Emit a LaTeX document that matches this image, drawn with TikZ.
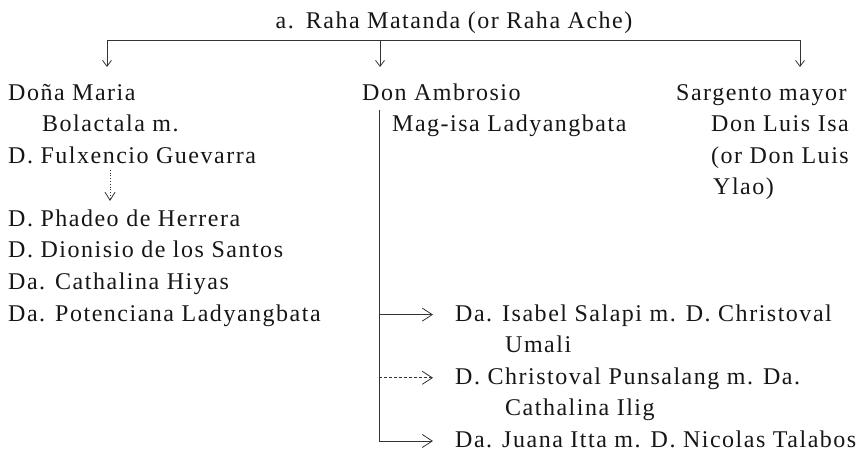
\documentclass[tikz,border=0pt]{standalone}
\usepackage{fontspec}
\setmainfont{Liberation Serif}[LetterSpace=6.3]
\usetikzlibrary{
    positioning,
    arrows.meta
}
\definecolor{Ink}{HTML}{161616}
\definecolor{Stroke}{HTML}{333333}

\begin{document}
\begin{tikzpicture}[
                x=1pt, y=1pt,
                every node/.style={align=left, text=Ink, inner sep=0pt},
                row/.style={
                    anchor=north west,
                    text height=25pt,
                    text depth=6.2pt,
                    font=\fontsize{24pt}{31.2pt}\selectfont
                },
                link/.style={draw=Stroke, line width=0.8pt},
                drop/.style={link, -{Straight Barb[length=6pt,width=9pt]}},
                branch/.style={link, -{Straight Barb[length=10pt,width=13pt]}},
                dotlink/.style={link, dotted, -{Straight Barb[length=8pt,width=10pt]}}
            ]

                \useasboundingbox (0,0) rectangle (866,-454);

                % title
                \node[row, anchor=north] (raha) at (454,-3)
                    {a.\enspace Raha Matanda (or Raha Ache)};

                \coordinate (barra) at (454,-40);
                \coordinate (esq) at (107,-67);
                \coordinate (meio) at (380,-67);
                \coordinate (dir) at (800,-67);

                % left column
                \node[row] (dona) at (8,-75) {Doña Maria};
                \node[row, below right=0pt and 34pt of dona.south west]
                    (bolactala) {Bolactala m.};
                \node[row, below right=0pt and -34pt of bolactala.south west]
                    (fulxencio) {D. Fulxencio Guevarra};
                \node[row, below right=31.2pt and 0pt of fulxencio.south west]
                    (phadeo) {D. Phadeo de Herrera};
                \node[row, below right=0pt and 0pt of phadeo.south west]
                    (dionisio) {D. Dionisio de los Santos};
                \node[row, below right=0pt and 0pt of dionisio.south west]
                    (cathalina) {Da. Cathalina Hiyas};
                \node[row, below right=0pt and 0pt of cathalina.south west]
                    (potenciana) {Da. Potenciana Ladyangbata};

                % middle column
                \node[row] (ambrosio) at (362,-75) {Don Ambrosio};
                \node[row, below right=0pt and 30pt of ambrosio.south west]
                    (magisa) {Mag-isa Ladyangbata};
                \coordinate (tronco) at ([xshift=17pt,yshift=-3pt]ambrosio.south west);

                \node[row] (isabel) at (455,0 |- potenciana.north)
                    {Da. Isabel Salapi m. D. Christoval};
                \node[row, below right=0pt and 50pt of isabel.south west]
                    (umali) {Umali};
                \node[row, below right=0pt and -50pt of umali.south west]
                    (christoval) {D. Christoval Punsalang m. Da.};
                \node[row, below right=0pt and 50pt of christoval.south west]
                    (ilig) {Cathalina Ilig};
                \node[row, below right=0pt and -50pt of ilig.south west]
                    (juana) {Da. Juana Itta m. D. Nicolas Talabos};

                % right column
                \node[row] (sargento) at (676,-75) {Sargento mayor};
                \node[row, below right=0pt and 35pt of sargento.south west]
                    (luisisa) {Don Luis Isa};
                \node[row, below right=0pt and 0pt of luisisa.south west]
                    (ordon) {(or Don Luis};
                \node[row, below right=0pt and 2pt of ordon.south west]
                    (ylao) {Ylao)};

                % connectors
                \draw[link] (barra -| esq) -- (barra -| dir);
                \draw[drop] (barra -| esq) -- (esq);
                \draw[drop] (barra -| meio) -- (meio);
                \draw[drop] (barra -| dir) -- (dir);

                \draw[dotlink]
                    ([xshift=102pt]fulxencio.south west) -- ([xshift=102pt]phadeo.north west);

                \draw[branch]
                    (tronco) |- ([xshift=-22pt,yshift=-3pt]juana.west);
                \draw[branch]
                    (tronco |- isabel.west) ++(0,-3) -- ([xshift=-22pt,yshift=-3pt]isabel.west);
                \draw[branch, densely dashed]
                    (tronco |- christoval.west) ++(0,-3) -- ([xshift=-22pt,yshift=-3pt]christoval.west);

            \end{tikzpicture}
\end{document}
